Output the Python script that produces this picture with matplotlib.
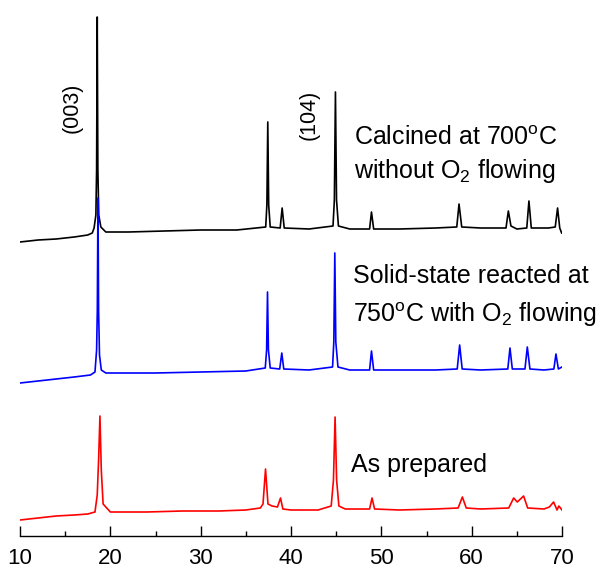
import matplotlib.pyplot as plt
from matplotlib.ticker import MultipleLocator

plt.rcParams['font.family'] = ['Liberation Sans', 'DejaVu Sans']
plt.rcParams['mathtext.fontset'] = 'custom'
plt.rcParams['mathtext.rm'] = 'Liberation Sans'

# 2theta (deg) and intensity above each pattern's own baseline (a.u.)
two_theta_black = [10.0, 12.0, 14.0, 16.0, 17.5, 18.0, 18.2, 18.4, 18.48, 18.55, 18.62, 18.72, 18.95, 19.5,
                   22.0, 26.0, 30.0, 34.0, 37.2, 37.33, 37.43, 37.53, 37.7, 38.8, 39.02, 39.25, 42.0,
                   44.65, 44.8, 44.92, 45.04, 45.25, 46.5, 48.7, 48.91, 49.15, 52.0, 56.0, 58.35, 58.6,
                   58.9, 61.0, 63.8, 64.06, 64.35, 65.0, 66.1, 66.34, 66.6, 68.5, 69.25, 69.51, 69.75, 69.96]
int_black = [-12, -10, -9, -7, -5, -3, 2, 15, 60, 213, 60, 15, 3, -2,
             -2, -1, 0, 0, 3, 25, 108, 25, 3, 2, 22, 2, 1,
             4, 30, 138, 30, 4, 1, 1, 18, 1, 1, 2, 3, 26,
             3, 2, 2, 19, 4, 1, 2, 29, 2, 2, 3, 22, 2, -3]

two_theta_blue = [10.0, 12.0, 14.0, 16.0, 17.8, 18.3, 18.48, 18.56, 18.63, 18.7, 18.8, 19.0, 19.5, 25.0,
                  30.0, 35.0, 37.15, 37.3, 37.4, 37.5, 37.7, 38.75, 38.98, 39.2, 42.0, 44.6, 44.74,
                  44.85, 44.96, 45.2, 46.5, 48.7, 48.91, 49.15, 52.0, 56.0, 58.4, 58.67, 58.95, 61.0,
                  64.0, 64.24, 64.5, 65.9, 66.16, 66.45, 68.0, 69.1, 69.33, 69.6, 69.99]
int_blue = [-13, -11, -9, -7, -5, -2, 20, 60, 172, 60, 15, 0, -3, -3,
            -2, -1, 2, 20, 78, 20, 2, 1, 17, 1, 0, 3, 28,
            117, 28, 3, 0, 0, 19, 0, 0, 0, 1, 25, 1, 0,
            1, 22, 1, 1, 23, 1, 0, 1, 16, 1, 3]

two_theta_red = [10.0, 12.0, 14.0, 16.0, 17.5, 18.3, 18.55, 18.7, 18.85, 19.0, 19.2, 20.0, 24.0, 28.0,
                 32.0, 35.0, 36.6, 36.9, 37.18, 37.45, 37.9, 38.5, 38.84, 39.1, 40.0, 43.0, 44.45,
                 44.7, 44.88, 45.05, 45.3, 46.0, 48.7, 48.97, 49.25, 52.0, 56.0, 58.5, 58.97, 59.4,
                 61.0, 64.1, 64.65, 65.05, 65.75, 66.2, 68.0, 68.6, 69.07, 69.45, 69.65, 70.0]
int_red = [-10, -8, -6, -5, -4, -2, 15, 50, 94, 40, 6, -2, -2, -1,
           -1, 0, 2, 6, 41, 6, 4, 3, 12, 1, 0, 0, 4,
           30, 93, 30, 4, 1, 1, 12, 1, 0, 1, 2, 13, 2,
           1, 2, 12, 8, 14, 2, 1, 3, 8, 0, 4, 0]

# vertical stacking of the three patterns
offset_black, offset_blue, offset_red = 306, 166, 26

fig = plt.figure(figsize=(6.0, 5.68), dpi=100)
ax = fig.add_axes([20 / 600, 32 / 568, 542 / 600, 536 / 568])

ax.plot(two_theta_black, [v + offset_black for v in int_black], color='black', lw=1.2)
ax.plot(two_theta_blue, [v + offset_blue for v in int_blue], color='#0000ff', lw=1.2)
ax.plot(two_theta_red, [v + offset_red for v in int_red], color='#ff0000', lw=1.2)

ax.set_xlim(10, 70)
ax.set_ylim(0, 536)
for side in ['left', 'right', 'top']:
    ax.spines[side].set_visible(False)
ax.spines['bottom'].set_linewidth(1.0)
ax.set_yticks([])
ax.xaxis.set_major_locator(MultipleLocator(10))
ax.xaxis.set_minor_locator(MultipleLocator(5))
ax.tick_params(axis='x', which='major', direction='in', length=7.5, width=1.0, pad=9, labelsize=16)
ax.tick_params(axis='x', which='minor', direction='in', length=3.8, width=1.0)
ax.patch.set_alpha(0)

fs = 18
ax.text(46.95, 391, r'Calcined at 700$^{\rm o}$C', fontsize=fs, va='baseline')
ax.text(46.95, 358, r'without O$_{\rm 2}$ flowing', fontsize=fs, va='baseline')
ax.text(46.84, 253, 'Solid-state reacted at', fontsize=fs, va='baseline')
ax.text(46.84, 214, r'750$^{\rm o}$C with O$_{\rm 2}$ flowing', fontsize=fs, va='baseline')
ax.text(46.69, 64, 'As prepared', fontsize=fs, va='baseline')
ax.text(15.75, 428, '(003)', fontsize=15.5, rotation=90, ha='center', va='center')
ax.text(41.97, 421, '(104)', fontsize=15.5, rotation=90, ha='center', va='center')

fig.savefig('out.png', dpi=100)
